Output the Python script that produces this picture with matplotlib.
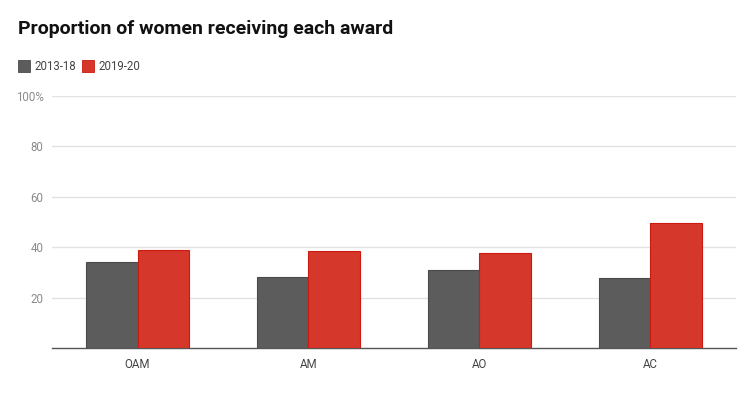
import matplotlib
matplotlib.use("Agg")
import matplotlib.pyplot as plt
import numpy as np
from matplotlib.patches import Rectangle

categories = ["OAM", "AM", "AO", "AC"]
series_names = ["2013-18", "2019-20"]
values_2013_18 = [34.2, 28.3, 31.2, 27.7]
values_2019_20 = [39.1, 38.5, 37.8, 49.6]
ytick_values = [20, 40, 60, 80, 100]
ytick_labels = ["20", "40", "60", "80", "100%"]

dark = "#5c5c5c"
red = "#d6372b"

plt.rcParams['font.family'] = ['Roboto', 'DejaVu Sans']

fig = plt.figure(figsize=(7.54, 3.95), dpi=100)
ax = fig.add_axes([0.069, 0.118, 0.907, 0.6397])

x = np.arange(len(categories))
w = 0.3
ax.bar(x - w / 2, values_2013_18, w, color=dark, edgecolor="#4a4a4a", linewidth=0.8, zorder=3)
ax.bar(x + w / 2, values_2019_20, w, color=red, edgecolor="#cc1a10", linewidth=0.8, zorder=3)

ax.set_xlim(-0.5, len(categories) - 0.5)
ax.set_ylim(0, 100)
ax.set_yticks(ytick_values)
ax.set_yticklabels(ytick_labels)
ax.set_xticks(x)
ax.set_xticklabels(categories)
ax.grid(axis="y", color="#e3e3e3", linewidth=1.0, zorder=0)
ax.tick_params(axis="both", length=0, labelsize=8.3, labelcolor="#444444")
ax.tick_params(axis="y", pad=6, labelcolor="#8a8a8a")
ax.tick_params(axis="x", pad=7)
for s in ["top", "right", "left"]:
    ax.spines[s].set_visible(False)
ax.spines["bottom"].set_color("#555555")
ax.spines["bottom"].set_linewidth(1.0)

fig.text(18 / 754, 1 - 29 / 395, "Proportion of women receiving each award",
         fontsize=14, fontweight="bold", color="#111111", va="center", ha="left")

# legend
leg_y = 1 - 66 / 395
for i, (name, col, ec) in enumerate(zip(series_names, [dark, red], ["#4a4a4a", "#cc1a10"])):
    x0 = [18, 82][i] / 754
    fig.patches.append(Rectangle((x0, leg_y - 6 / 395), 12 / 754, 12 / 395,
                                 transform=fig.transFigure, facecolor=col,
                                 edgecolor=ec, linewidth=0.6))
    fig.text(x0 + 16 / 754, leg_y, name, fontsize=8.3, color="#444444", va="center", ha="left")

fig.savefig("out.png", dpi=100)
